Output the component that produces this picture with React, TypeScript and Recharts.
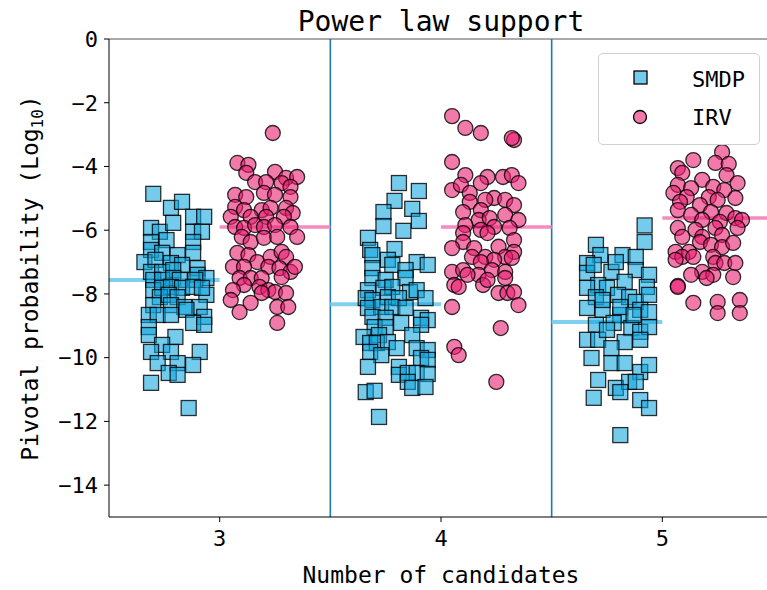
import { ScatterChart, Scatter, XAxis, YAxis, ReferenceLine } from 'recharts'

// jittered points per candidate count: [x, log10 pivotal probability]
const smdp3: [number, number][] = [
  [2.7, -4.86], [2.78, -5.3], [2.83, -5.11], [2.88, -5.58], [2.93, -5.58], [2.69, -5.93], [2.73, -6.05],
  [2.79, -5.77], [2.88, -6.05], [2.92, -6.05], [2.69, -6.37], [2.76, -6.31], [2.88, -6.37], [2.69, -6.62],
  [2.74, -6.71], [2.81, -6.78], [2.88, -6.71], [2.66, -7.0], [2.71, -6.93], [2.78, -7.03], [2.83, -7.09],
  [2.9, -7.19], [2.69, -7.31], [2.74, -7.31], [2.79, -7.25], [2.9, -7.4], [2.94, -7.5], [2.7, -7.56],
  [2.74, -7.56], [2.79, -7.5], [2.82, -7.56], [2.89, -7.56], [2.7, -7.88], [2.74, -7.81], [2.78, -7.78],
  [2.83, -7.81], [2.88, -7.78], [2.94, -8.03], [2.73, -8.1], [2.77, -8.03], [2.81, -8.1], [2.92, -7.81],
  [2.7, -8.35], [2.78, -8.35], [2.84, -8.41], [2.91, -8.41], [2.68, -8.66], [2.72, -8.66], [2.78, -8.66],
  [2.85, -8.5], [2.93, -8.72], [2.68, -9.04], [2.88, -8.91], [2.93, -8.97], [2.68, -9.29], [2.8, -9.35],
  [2.74, -9.6], [2.69, -9.82], [2.78, -9.82], [2.91, -9.82], [2.72, -10.17], [2.81, -10.17], [2.88, -10.23],
  [2.77, -10.48], [2.81, -10.54], [2.69, -10.79], [2.86, -11.58],
]
const irv3: [number, number][] = [
  [3.24, -2.95], [3.08, -3.89], [3.13, -3.95], [3.12, -4.2], [3.25, -4.17], [3.3, -4.36], [3.35, -4.33],
  [3.16, -4.49], [3.21, -4.49], [3.28, -4.52], [3.32, -4.64], [3.07, -4.89], [3.12, -4.96], [3.2, -4.83],
  [3.25, -4.89], [3.32, -4.96], [3.07, -5.27], [3.11, -5.37], [3.19, -5.37], [3.23, -5.3], [3.3, -5.3],
  [3.33, -5.46], [3.05, -5.58], [3.14, -5.58], [3.21, -5.58], [3.29, -5.58], [3.07, -5.9], [3.11, -5.93],
  [3.16, -5.84], [3.2, -5.9], [3.25, -5.84], [3.32, -5.9], [3.1, -6.21], [3.14, -6.37], [3.2, -6.24],
  [3.26, -6.21], [3.35, -6.21], [3.08, -6.71], [3.13, -6.78], [3.17, -7.0], [3.23, -6.84], [3.28, -6.68],
  [3.3, -6.84], [3.06, -7.15], [3.11, -7.15], [3.22, -7.15], [3.27, -7.19], [3.32, -7.31], [3.34, -7.15],
  [3.09, -7.5], [3.14, -7.5], [3.19, -7.5], [3.28, -7.47], [3.11, -7.72], [3.18, -7.78], [3.06, -7.88],
  [3.22, -7.88], [3.25, -7.94], [3.3, -7.97], [3.19, -7.97], [3.05, -8.19], [3.14, -8.28], [3.26, -8.41],
  [3.31, -8.41], [3.09, -8.57], [3.26, -8.91],
]
const smdp4: [number, number][] = [
  [3.81, -4.52], [3.9, -4.77], [3.79, -5.08], [3.74, -5.43], [3.87, -5.33], [3.9, -5.71], [3.74, -5.87],
  [3.83, -6.02], [3.67, -6.24], [3.68, -6.62], [3.69, -6.78], [3.79, -6.59], [3.76, -6.93], [3.89, -7.0],
  [3.94, -7.09], [3.69, -7.19], [3.78, -7.09], [3.84, -7.25], [3.69, -7.5], [3.75, -7.56], [3.84, -7.5],
  [3.67, -7.88], [3.74, -7.81], [3.78, -7.78], [3.86, -7.94], [3.89, -7.88], [3.66, -8.13], [3.69, -8.19],
  [3.76, -8.1], [3.81, -8.13], [3.93, -8.13], [3.67, -8.44], [3.73, -8.41], [3.78, -8.41], [3.84, -8.44],
  [3.69, -8.72], [3.75, -8.75], [3.82, -8.91], [3.91, -8.75], [3.94, -8.82], [3.7, -9.04], [3.75, -9.04],
  [3.91, -8.97], [3.65, -9.35], [3.72, -9.29], [3.87, -9.29], [3.68, -9.54], [3.71, -9.54], [3.76, -9.51],
  [3.8, -9.7], [3.68, -9.82], [3.73, -9.92], [3.89, -9.7], [3.94, -9.76], [3.91, -10.01], [3.94, -10.07],
  [3.67, -10.29], [3.81, -10.29], [3.81, -10.54], [3.85, -10.48], [3.89, -10.48], [3.94, -10.51],
  [3.85, -10.76], [3.87, -10.95], [3.93, -10.92], [3.66, -11.08], [3.7, -11.04], [3.72, -11.86],
]
const irv4: [number, number][] = [
  [4.05, -2.42], [4.11, -2.79], [4.18, -2.95], [4.33, -3.17], [4.32, -3.11], [4.05, -3.86], [4.11, -4.27],
  [4.21, -4.33], [4.28, -4.33], [4.32, -4.27], [4.35, -4.52], [4.05, -4.74], [4.09, -4.58], [4.18, -4.52],
  [4.13, -4.83], [4.24, -4.99], [4.29, -5.05], [4.33, -5.21], [4.13, -5.11], [4.2, -5.05], [4.1, -5.43],
  [4.18, -5.37], [4.29, -5.52], [4.35, -5.68], [4.17, -5.68], [4.22, -5.62], [4.11, -5.84], [4.18, -5.99],
  [4.24, -5.9], [4.31, -5.93], [4.1, -6.09], [4.21, -6.09], [4.1, -6.37], [4.05, -6.56], [4.15, -6.56],
  [4.33, -6.31], [4.26, -6.52], [4.33, -6.68], [4.14, -6.84], [4.2, -6.84], [4.29, -6.84], [4.32, -6.87],
  [4.24, -6.93], [4.18, -7.0], [4.05, -7.31], [4.1, -7.25], [4.17, -7.4], [4.23, -7.25], [4.29, -7.31],
  [4.12, -7.4], [4.06, -7.72], [4.08, -7.78], [4.19, -7.72], [4.21, -7.56], [4.29, -7.5], [4.26, -7.97],
  [4.3, -7.97], [4.33, -7.94], [4.05, -8.41], [4.35, -8.35], [4.27, -9.07], [4.06, -9.66], [4.08, -9.92],
  [4.25, -10.76],
]
const smdp5: [number, number][] = [
  [4.92, -5.85], [4.92, -6.37], [4.7, -6.46], [4.72, -6.78], [4.82, -6.78], [4.88, -6.84], [4.66, -7.03],
  [4.77, -7.31], [4.88, -7.25], [4.94, -7.4], [4.66, -7.34], [4.83, -7.62], [4.71, -7.72], [4.66, -7.81],
  [4.75, -7.81], [4.93, -7.78], [4.7, -8.1], [4.8, -8.03], [4.85, -8.1], [4.88, -8.25], [4.94, -8.03],
  [4.66, -8.44], [4.73, -8.5], [4.81, -8.66], [4.9, -8.5], [4.94, -8.57], [4.7, -8.97], [4.78, -8.91],
  [4.86, -9.07], [4.9, -9.19], [4.94, -9.04], [4.66, -9.44], [4.71, -9.44], [4.83, -9.51], [4.9, -9.44],
  [4.77, -9.7], [4.68, -10.01], [4.77, -10.17], [4.83, -10.17], [4.9, -10.45], [4.94, -10.23], [4.71, -10.7],
  [4.79, -10.95], [4.85, -10.76], [4.88, -10.76], [4.81, -11.08], [4.69, -11.26], [4.9, -11.33],
  [4.94, -11.58], [4.81, -12.43], [4.81, -8.41], [4.87, -8.66], [4.75, -9.13], [4.73, -8.19], [4.69, -7.09],
  [4.79, -7.0],
]
const irv5: [number, number][] = [
  [5.27, -3.55], [5.24, -3.89], [5.3, -3.92], [5.14, -3.8], [5.07, -4.05], [5.09, -4.2], [5.29, -4.27],
  [5.18, -4.42], [5.34, -4.52], [5.07, -4.58], [5.13, -4.68], [5.23, -4.64], [5.28, -4.74], [5.05, -4.83],
  [5.11, -4.96], [5.21, -4.96], [5.33, -4.99], [5.08, -5.11], [5.17, -5.21], [5.25, -5.05], [5.07, -5.37],
  [5.13, -5.52], [5.22, -5.43], [5.29, -5.46], [5.18, -5.68], [5.33, -5.62], [5.36, -5.68], [5.26, -5.74],
  [5.07, -5.93], [5.15, -5.99], [5.24, -5.93], [5.34, -5.93], [5.09, -6.21], [5.18, -6.21], [5.27, -6.15],
  [5.17, -6.37], [5.22, -6.46], [5.27, -6.53], [5.32, -6.4], [5.06, -6.68], [5.12, -6.68], [5.09, -6.84],
  [5.06, -6.93], [5.14, -6.84], [5.23, -6.84], [5.24, -7.03], [5.28, -7.03], [5.33, -7.03], [5.18, -7.31],
  [5.23, -7.4], [5.13, -7.4], [5.2, -7.5], [5.32, -7.47], [5.07, -7.75], [5.07, -7.78], [5.14, -8.28],
  [5.25, -8.25], [5.35, -8.19], [5.25, -8.6], [5.35, -8.6],
]

const candidates = [3, 4, 5]
const medianSmdp = [-7.56, -8.32, -8.88]
const medianIrv = [-5.9, -5.9, -5.62]
const yTicks = [0, -2, -4, -6, -8, -10, -12, -14]

const SMDP_FILL = '#12a6dc'
const IRV_FILL = '#e8196e'
const FONT = 'DejaVu Sans Mono'

const toPts = (arr: [number, number][]) => arr.map(([x, y]) => ({ x, y }))
const smdpData = toPts([...smdp3, ...smdp4, ...smdp5])
const irvData = toPts([...irv3, ...irv4, ...irv5])

const Square = (props: any) => (
  <rect
    x={props.cx - 7.5}
    y={props.cy - 7.5}
    width={15}
    height={15}
    fill={SMDP_FILL}
    fillOpacity={0.58}
    stroke="#000"
    strokeOpacity={0.8}
    strokeWidth={1.3}
  />
)

const Dot = (props: any) => (
  <circle
    cx={props.cx}
    cy={props.cy}
    r={7.5}
    fill={IRV_FILL}
    fillOpacity={0.58}
    stroke="#000"
    strokeOpacity={0.8}
    strokeWidth={1.3}
  />
)

// legend drawn as an overlay so it doesn't shrink the plot area
function LegendBox() {
  return (
    <div
      style={{
        position: 'absolute',
        left: 598,
        top: 53,
        width: 162,
        height: 92,
        border: '1px solid #d0d0d0',
        borderRadius: 5,
        background: 'rgba(255,255,255,0.85)',
        boxSizing: 'border-box',
      }}
    >
      <svg width={160} height={90} style={{ position: 'absolute', left: 0, top: 0 }}>
        <rect x={35} y={17} width={13} height={13} fill={SMDP_FILL} fillOpacity={0.58} stroke="#000" strokeWidth={1.3} />
        <circle cx={41} cy={63} r={6.5} fill={IRV_FILL} fillOpacity={0.58} stroke="#000" strokeWidth={1.3} />
        <text x={93} y={33} fontFamily={FONT} fontSize={22} fill="#000">SMDP</text>
        <text x={93} y={71} fontFamily={FONT} fontSize={22} fill="#000">IRV</text>
      </svg>
    </div>
  )
}

export default function App() {
  return (
    <div style={{ position: 'fixed', left: 0, top: 0, width: 767, height: 590, overflow: 'hidden', background: '#fff' }}>
      <ScatterChart width={790} height={590} margin={{ top: 39, right: 17, left: 0, bottom: 0 }}>
        <XAxis
          type="number"
          dataKey="x"
          domain={[2.5, 5.5]}
          ticks={candidates}
          height={73}
          stroke="#000"
          tick={{ fill: '#000', fontSize: 22, fontFamily: FONT }}
          tickSize={5}
          tickMargin={8}
          allowDataOverflow
          label={{
            content: () => (
              <text x={441} y={583} textAnchor="middle" fontFamily={FONT} fontSize={23} fill="#000">
                Number of candidates
              </text>
            ),
          }}
        />
        <YAxis
          type="number"
          dataKey="y"
          domain={[-15, 0]}
          ticks={yTicks}
          width={109}
          stroke="#000"
          tick={{ fill: '#000', fontSize: 22, fontFamily: FONT }}
          tickSize={5}
          tickMargin={6}
          tickFormatter={(v: number) => (v < 0 ? `\u2212${Math.abs(v)}` : `${v}`)}
          allowDataOverflow
          label={{
            content: () => (
              <text
                x={38}
                y={278}
                transform="rotate(-90, 38, 278)"
                textAnchor="middle"
                fontFamily={FONT}
                fontSize={23}
                fill="#000"
              >
                Pivotal probability (Log
                <tspan fontSize={16} dy={5}>10</tspan>
                <tspan dy={-5}>)</tspan>
              </text>
            ),
          }}
        />
        <ReferenceLine y={0} stroke="#555" strokeWidth={1} />
        <ReferenceLine
          x={4}
          stroke="none"
          label={{
            content: () => (
              <text x={441} y={31} textAnchor="middle" fontFamily={FONT} fontSize={28} fill="#000">
                Power law support
              </text>
            ),
          }}
        />
        <ReferenceLine x={3.5} stroke="#1f77b4" strokeWidth={1.6} />
        <ReferenceLine x={4.5} stroke="#1f77b4" strokeWidth={1.6} />
        {candidates.map((c, i) => (
          <ReferenceLine
            key={`ms${c}`}
            segment={[{ x: c - 0.5, y: medianSmdp[i] }, { x: c, y: medianSmdp[i] }]}
            stroke="#7fcfee"
            strokeWidth={4}
          />
        ))}
        {candidates.map((c, i) => (
          <ReferenceLine
            key={`mi${c}`}
            segment={[{ x: c, y: medianIrv[i] }, { x: c + 0.5, y: medianIrv[i] }]}
            stroke="#f58cbd"
            strokeWidth={3.5}
          />
        ))}
        <Scatter name="SMDP" data={smdpData} shape={Square} isAnimationActive={false} />
        <Scatter name="IRV" data={irvData} shape={Dot} isAnimationActive={false} />
      </ScatterChart>
      <LegendBox />
    </div>
  )
}
